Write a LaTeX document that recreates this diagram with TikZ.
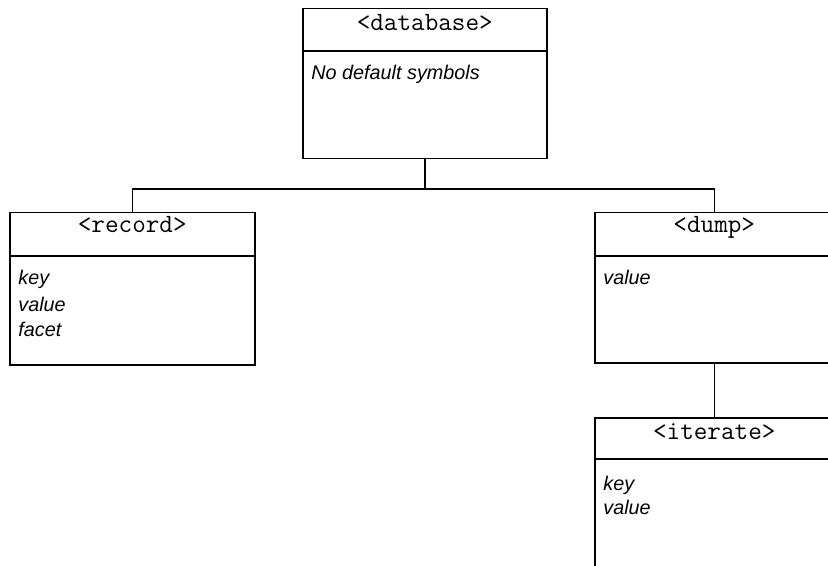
\documentclass[tikz,border=0pt]{standalone}
\usepackage{fontspec}
\setmainfont{Liberation Sans}
\begin{document}
\begin{tikzpicture}[x=0.5pt,y=-0.5pt,
  box/.style={draw, line width=0.75pt, inner sep=0pt, anchor=north west},
  titletext/.style={anchor=base, inner sep=0pt, font=\ttfamily\fontsize{13.2}{15}\selectfont},
  bodytext/.style={anchor=base west, inner sep=0pt,
    font=\itshape\fontsize{9.9}{12.6}\selectfont},
  conn/.style={line width=0.75pt}]
\useasboundingbox (0,0) rectangle (828,566);
\clip (0,0) rectangle (828,566);

% boxes
\node[box, minimum width=122pt, minimum height=75pt] (db) at (302,8) {};
\node[box, minimum width=122.5pt, minimum height=76pt] (rec) at (9,212) {};
\node[box, minimum width=119.5pt, minimum height=75pt] (dump) at (594,212) {};
\node[box, minimum width=119.5pt, minimum height=80pt] (iter) at (594,417) {};

% separators
\draw[conn] ([yshift=-21.5pt]db.north west) -- ([yshift=-21.5pt]db.north east);
\draw[conn] ([yshift=-22pt]rec.north west) -- ([yshift=-22pt]rec.north east);
\draw[conn] ([yshift=-22pt]dump.north west) -- ([yshift=-22pt]dump.north east);
\draw[conn] ([yshift=-21pt]iter.north west) -- ([yshift=-21pt]iter.north east);

% titles
\node[titletext] (dbt) at ([yshift=-11.5pt]db.north) {<database>};
\node[titletext] (rect) at ([yshift=-10.5pt]rec.north) {<record>};
\node[titletext] (dumpt) at ([yshift=-10.5pt]dump.north) {<dump>};
\node[titletext] (itert) at ([yshift=-11pt]iter.north) {<iterate>};

% bodies
\node[bodytext] (dbb) at ([xshift=4.5pt,yshift=-36pt]db.north west) {No default symbols};
\node[bodytext] (rec1) at ([xshift=4.5pt,yshift=-36.5pt]rec.north west) {key};
\node[bodytext] (rec2) at ([xshift=4.5pt,yshift=-49.8pt]rec.north west) {value};
\node[bodytext] (rec3) at ([xshift=4.5pt,yshift=-62.3pt]rec.north west) {facet};
\node[bodytext] (dumpb) at ([xshift=4.5pt,yshift=-36.5pt]dump.north west) {value};
\node[bodytext] (iter1) at ([xshift=4.5pt,yshift=-36.5pt]iter.north west) {key};
\node[bodytext] (iter2) at ([xshift=4.5pt,yshift=-48.5pt]iter.north west) {value};

% connectors
\coordinate (j) at (db.south |- 0,189);
\draw[conn] (db.south) -- (j);
\draw[conn] (rec.north) |- (j) -| (dump.north);
\draw[conn] (dump.south) -- (iter.north);
\end{tikzpicture}
\end{document}
